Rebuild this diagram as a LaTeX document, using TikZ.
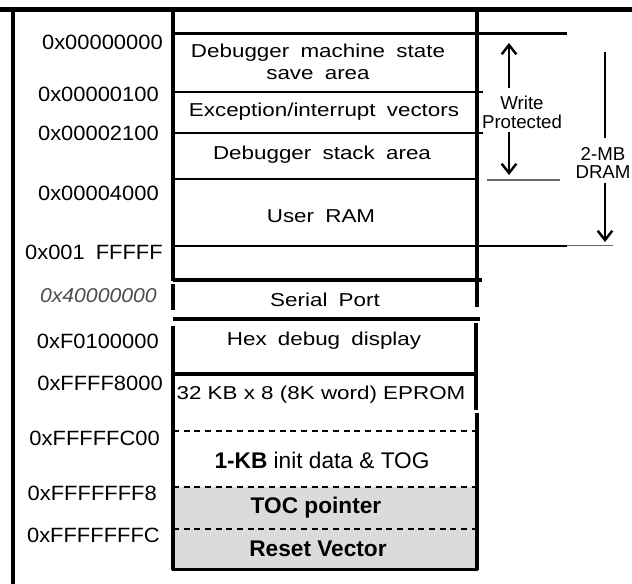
\documentclass[tikz,border=0pt]{standalone}
\usepackage{fontspec}
\setmainfont{Liberation Sans}
\newfontfamily\wideface[WordSpace=1.8]{Liberation Sans}
\usetikzlibrary{arrows.meta,positioning}

\begin{document}
\begin{tikzpicture}[x=0.75pt,y=-0.75pt,
frame/.style={line width=3.5pt},
side/.style={line width=2.4pt},
sep/.style={line width=1.7pt},
thk/.style={line width=2.6pt},
dsh/.style={line width=1.7pt,dash pattern=on 4.5pt off 3.5pt},
addr/.style={anchor=east,inner sep=0pt,xscale=1.06,font=\wideface\fontsize{15.5}{16}\selectfont},
region/.style={inner sep=0pt,align=center,xscale=1.2,font=\wideface\fontsize{14}{16.5}\selectfont},
rom/.style={inner sep=0pt,font=\fontsize{17}{18}\selectfont},
note/.style={inner sep=0pt,align=center,font=\fontsize{14}{14.3}\selectfont},
arr/.style={line width=1.8pt,-{Straight Barb[length=7pt,width=11pt,line width=1.8pt]}}]
\useasboundingbox (0,0) rectangle (632,584);
% gray part of the EPROM
\fill[black!14] (173,487) rectangle (477,569);
% outer frame
\draw[frame] (0,9.5) -- (632,9.5);
\draw[frame] (13,9.5) -- (13,584);
% DRAM column
\draw[side] (173,9.5) -- (173,281);
\draw[side] (477,9.5) -- (477,281);
\draw[sep] (173,33.5) -- (567,33.5);
\draw[sep] (173,92) -- (483,92);
\draw[sep] (173,133) -- (483,133);
\draw[sep] (173,179) -- (477,179);
\draw[line width=1pt,black!60] (487,180) -- (560,180);
\draw[sep] (173,246) -- (567,246);
\draw[line width=1pt,black!60] (567,245.5) -- (613,245.5);
\draw[thk] (173,280) -- (482,280);
% serial port
\draw[side] (173,284) -- (173,310);
\draw[side] (477,282) -- (477,307);
\draw[thk] (173,319) -- (480,319);
% hex display and EPROM
\draw[side] (173,326) -- (173,570);
\draw[side] (476,323) -- (476,410);
\draw[thk] (173,374) -- (476,374);
\draw[side] (477,413) -- (477,570);
\draw[dsh] (173,431) -- (477,431);
\draw[dsh] (173,487) -- (477,487);
\draw[dsh] (173,529) -- (477,529);
\draw[side] (172,569.5) -- (478,569.5);

% addresses
\node[addr] (a0) at (163,42) {0x00000000};
\node[addr] (a1) at (159,94) {0x00000100};
\node[addr] (a2) at (159,133) {0x00002100};
\node[addr] (a3) at (159,193) {0x00004000};
\node[addr] (a4) at (163,252) {0x001 FFFFF};
\node[addr,black!70,font=\itshape\fontsize{15}{16}\selectfont] (a5) at (157,296) {0x40000000};
\node[addr] (a6) at (159,341) {0xF0100000};
\node[addr] (a7) at (163,383) {0xFFFF8000};
\node[addr] (a8) at (160,438) {0xFFFFFC00};
\node[addr] (a9) at (157,493) {0xFFFFFFF8};
\node[addr] (a10) at (160,535) {0xFFFFFFFC};

% regions
\node[region] (save) at (318,62) {Debugger machine state\\save area};
\node[region] (vec) at (324,112) {Exception/interrupt vectors};
\node[region] (stack) at (322,155) {Debugger stack area};
\node[region] (ram) at (321,216) {User RAM};
\node[region] (serial) at (325,300) {Serial Port};
\node[region] (hex) at (324,341) {Hex debug display};
\node[region,font=\fontsize{14}{16.5}\selectfont] (eprom) at (321,395) {32 KB x 8 (8K word) EPROM};
\node[rom] (init) at (322,460) {\textbf{1-KB} init data \& TOG};
\node[rom,font=\bfseries\fontsize{17}{18}\selectfont] (toc) at (316,508) {TOC pointer};
\node[rom,font=\bfseries\fontsize{17}{18}\selectfont] (reset) at (318,549) {Reset Vector};

% write protected
\node[note] (wp) at (522,112) {Write\\Protected};
\coordinate (wpA) at (509,88);
\coordinate (wpB) at (509,43);
\coordinate (wpC) at (509,132);
\coordinate (wpD) at (509,175);
\draw[arr] (wpA) -- (wpB);
\draw[arr] (wpC) -- (wpD);
% DRAM size
\node[note,font=\fontsize{14}{14}\selectfont] (dram) at (603,163) {2-MB\\DRAM};
\coordinate (drA) at (605,52);
\coordinate (drB) at (605,138);
\coordinate (drC) at (605,183);
\coordinate (drD) at (605,242);
\draw[line width=1.7pt] (drA) -- (drB);
\draw[arr] (drC) -- (drD);
\end{tikzpicture}
\end{document}
